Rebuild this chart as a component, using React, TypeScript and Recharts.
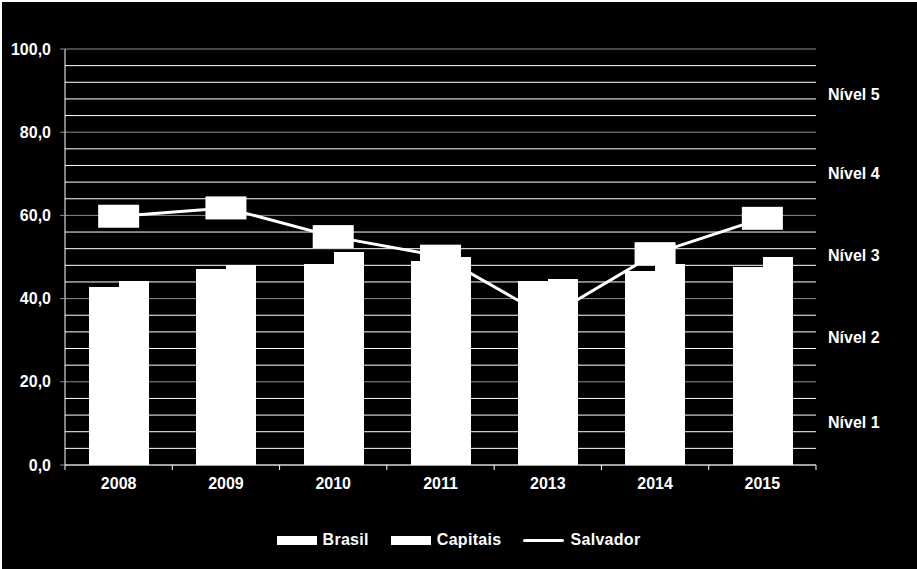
import {
  Bar,
  CartesianGrid,
  ComposedChart,
  Legend,
  Line,
  ReferenceLine,
  XAxis,
  YAxis
} from 'recharts'

// values
const years = ['2008', '2009', '2010', '2011', '2013', '2014', '2015']
const brasil = [42.8, 47.1, 48.4, 49.0, 44.3, 46.7, 47.6]
const capitais = [44.3, 48.0, 51.2, 50.0, 44.7, 48.3, 50.0]
const salvador = [59.8, 61.8, 54.9, 50.2, 35.5, 50.8, 59.3]

const majorTicks = [0, 20, 40, 60, 80, 100]
const minorTicks = [
  4, 8, 12, 16, 24, 28, 32, 36, 44, 48, 52, 56, 64, 68, 72, 76, 84, 88, 92, 96
]

const levelLabels = ['Nível 1', 'Nível 2', 'Nível 3', 'Nível 4', 'Nível 5']
const levelPositions = [10.3, 30.8, 50.5, 70.2, 89.2]

const data = years.map((year, i) => ({
  year,
  Brasil: brasil[i],
  Capitais: capitais[i],
  Salvador: salvador[i]
}))

const font = '"Liberation Sans", Arial, sans-serif'

const YearTick = (props: any) => {
  const { x, y, payload, index, width, visibleTicksCount } = props
  const band = (width || 751) / (visibleTicksCount || 7)
  const axisY = y - 13
  const last = index === (visibleTicksCount || 7) - 1
  return (
    <g>
      <line
        x1={x - band / 2}
        x2={x - band / 2}
        y1={axisY}
        y2={axisY + 5}
        stroke="#fff"
      />
      {last && (
        <line
          x1={x + band / 2}
          x2={x + band / 2}
          y1={axisY}
          y2={axisY + 5}
          stroke="#fff"
        />
      )}
      <text
        x={x}
        y={y}
        dy="0.71em"
        textAnchor="middle"
        fill="#fff"
        fontSize={16}
        fontWeight="bold"
        fontFamily={font}
      >
        {payload.value}
      </text>
    </g>
  )
}

// rectangular marker like the original spreadsheet chart
const BoxDot = (props: any) => {
  const { cx, cy } = props
  if (cx == null || cy == null) return null
  return <rect x={cx - 20.5} y={cy - 11.5} width={41} height={23} fill="#fff" />
}

const LegendContent = ({ payload }: any) => (
  <div
    style={{
      display: 'flex',
      justifyContent: 'center',
      alignItems: 'center',
      gap: 22,
      color: '#fff',
      fontFamily: font,
      fontSize: 16,
      fontWeight: 'bold',
      lineHeight: '18px'
    }}
  >
    {(payload || []).map((item: any) => (
      <div
        key={item.value}
        style={{ display: 'flex', alignItems: 'center', gap: 6 }}
      >
        {item.type === 'line' ? (
          <span
            style={{
              display: 'inline-block',
              width: 41,
              height: 3,
              borderRadius: 2,
              background: '#fff'
            }}
          />
        ) : (
          <span
            style={{
              display: 'inline-block',
              width: 40,
              height: 9,
              background: '#fff'
            }}
          />
        )}
        <span style={{ letterSpacing: 0.3 }}>{item.value}</span>
      </div>
    ))}
  </div>
)

export default function App() {
  return (
    <div
      style={{
        position: 'absolute',
        left: 0,
        top: 0,
        width: 917,
        height: 569,
        background: '#000',
        boxShadow: 'inset 2px 2px 0 0 #fff',
        fontFamily: font
      }}
    >
      <ComposedChart
        width={917}
        height={569}
        data={data}
        margin={{ top: 49, right: 101, left: 0, bottom: 74 }}
        barGap={0}
        barSize={30}
      >
        <CartesianGrid vertical={false} stroke="#8c8c8c" />
        {minorTicks.map((v) => (
          <ReferenceLine key={v} y={v} stroke="#fff" />
        ))}
        {levelPositions.map((v, i) => (
          <ReferenceLine
            key={'lvl' + v}
            y={v}
            stroke="none"
            label={{
              value: levelLabels[i],
              position: 'right',
              offset: 12,
              fill: '#fff',
              fontSize: 16,
              fontWeight: 'bold'
            }}
          />
        ))}
        <XAxis
          dataKey="year"
          height={30}
          axisLine={{ stroke: '#fff' }}
          tickLine={false}
          tickSize={5}
          tickMargin={8}
          tick={<YearTick />}
          interval={0}
        />
        <YAxis
          domain={[0, 100]}
          ticks={majorTicks}
          width={65}
          axisLine={{ stroke: '#fff' }}
          tickLine={{ stroke: '#8c8c8c' }}
          tickSize={5}
          tickMargin={9}
          tickFormatter={(v: number) => v.toFixed(1).replace('.', ',')}
          tick={{ fill: '#fff', fontSize: 16, fontWeight: 'bold' }}
        />
        <Legend
          verticalAlign="middle"
          align="center"
          layout="horizontal"
          content={<LegendContent />}
          wrapperStyle={{ top: 531, left: 0, width: 917 }}
        />
        <Bar
          dataKey="Brasil"
          fill="#fff"
          shapeRendering="crispEdges"
          isAnimationActive={false}
        />
        <Bar
          dataKey="Capitais"
          fill="#fff"
          shapeRendering="crispEdges"
          isAnimationActive={false}
        />
        <Line
          dataKey="Salvador"
          stroke="#fff"
          strokeWidth={3}
          dot={<BoxDot />}
          activeDot={false}
          isAnimationActive={false}
        />
      </ComposedChart>
    </div>
  )
}
